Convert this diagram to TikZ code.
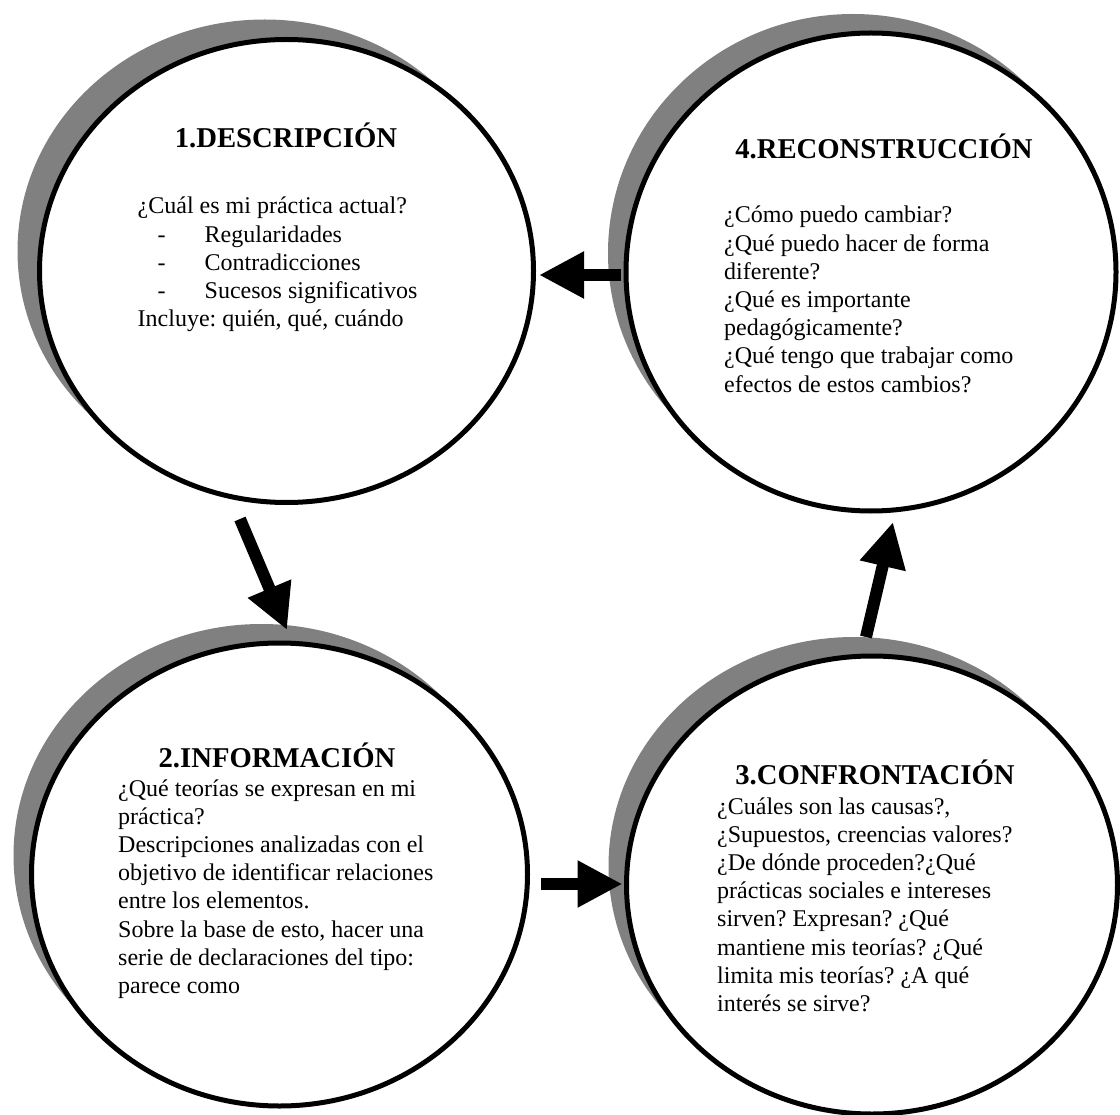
\documentclass[tikz,border=0pt]{standalone}
\usepackage{fontspec}
\setmainfont{Liberation Serif}
\usetikzlibrary{shapes.geometric,arrows.meta,shadows}
\tikzset{
  stage/.style 2 args={ellipse, draw=black, line width=5pt, fill=white, inner sep=0pt,
    general shadow={fill=gray, shadow xshift=#1, shadow yshift=#2}},
  heading/.style={anchor=base, inner sep=0pt, font=\fontsize{28.7}{33}\selectfont\bfseries},
  bodytext/.style={anchor=base west, inner sep=0pt, font=\fontsize{24}{28.2}\selectfont\frenchspacing},
  flow/.style={line width=12pt, -{Triangle[length=45pt,width=44pt]}},
}
\newcommand{\dashitem}[1]{\hspace*{20pt}\makebox[47pt][l]{-}#1}
\begin{document}
\frenchspacing
\begin{tikzpicture}[x=1pt,y=-1pt]
\useasboundingbox (0,0) rectangle (1120,1115);

% the four stages of the cycle
\node[stage={-22pt}{20pt}, minimum width=494pt, minimum height=463pt] (c1) at (286.5,271) {};
\node[stage={-18pt}{19pt}, minimum width=496pt, minimum height=463pt] (c2) at (279.5,874.5) {};
\node[stage={-18pt}{19pt}, minimum width=491pt, minimum height=458pt] (c3) at (872,885) {};
\node[stage={-18pt}{19pt}, minimum width=490pt, minimum height=478pt] (c4) at (871,272) {};

% stage 1
\node[heading] (t1) at (286,148) {1.DESCRIPCIÓN};
\node[bodytext] (b1) at (137.5,214) {\begin{tabular}[t]{@{}l@{}}
¿Cuál es mi práctica actual?\\
\dashitem{Regularidades}\\
\dashitem{Contradicciones}\\
\dashitem{Sucesos significativos}\\
Incluye: quién, qué, cuándo
\end{tabular}};

% stage 2
\node[heading] (t2) at (277,767) {2.INFORMACIÓN};
\node[bodytext] (b2) at (118,796) {\begin{tabular}[t]{@{}l@{}}
¿Qué teorías se expresan en mi\\
práctica?\\
Descripciones analizadas con el\\
objetivo de identificar relaciones\\
entre los elementos.\\
Sobre la base de esto, hacer una\\
serie de declaraciones del tipo:\\
parece como
\end{tabular}};

% stage 3
\node[heading] (t3) at (875,784) {3.CONFRONTACIÓN};
\node[bodytext] (b3) at (717,814) {\begin{tabular}[t]{@{}l@{}}
¿Cuáles son las causas?,\\
¿Supuestos, creencias valores?\\
¿De dónde proceden?¿Qué\\
prácticas sociales e intereses\\
sirven? Expresan? ¿Qué\\
mantiene mis teorías? ¿Qué\\
limita mis teorías? ¿A qué\\
interés se sirve?
\end{tabular}};

% stage 4
\node[heading] (t4) at (884,159) {4.RECONSTRUCCIÓN};
\node[bodytext] (b4) at (724,223) {\begin{tabular}[t]{@{}l@{}}
¿Cómo puedo cambiar?\\
¿Qué puedo hacer de forma\\
diferente?\\
¿Qué es importante\\
pedagógicamente?\\
¿Qué tengo que trabajar como\\
efectos de estos cambios?
\end{tabular}};

% arrow ends between the stages
\coordinate (a12s) at (240,519);
\coordinate (a12e) at (287,630);
\coordinate (a23s) at (541,884);
\coordinate (a23e) at (622.5,884);
\coordinate (a34s) at (866,637);
\coordinate (a34e) at (893,522);
\coordinate (a41s) at (621,275);
\coordinate (a41e) at (539,275);

\draw[flow] (a12s) -- (a12e);
\draw[flow] (a23s) -- (a23e);
\draw[flow] (a34s) -- (a34e);
\draw[flow] (a41s) -- (a41e);
\end{tikzpicture}
\end{document}
